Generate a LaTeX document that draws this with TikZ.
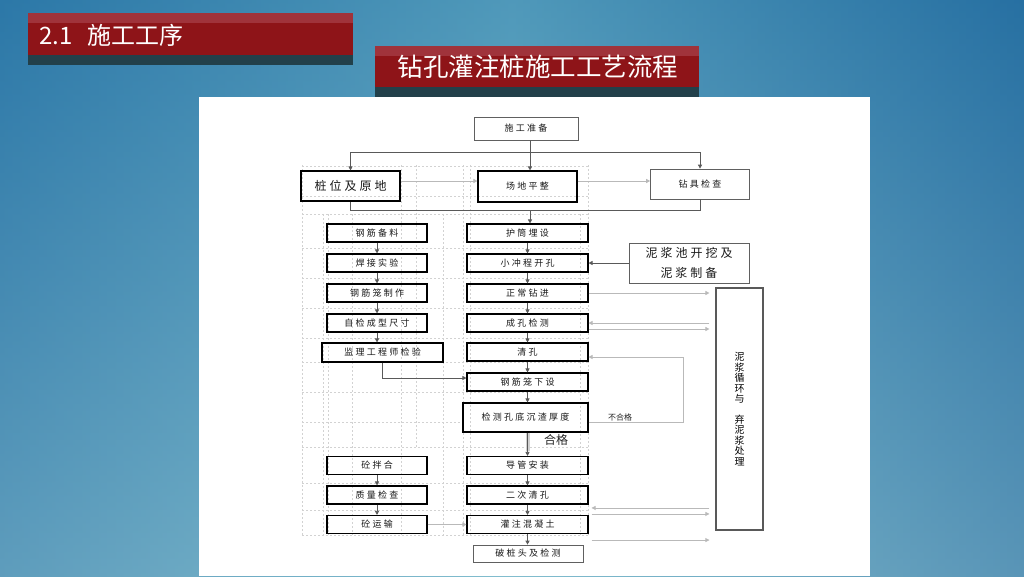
\documentclass[tikz,border=0pt]{standalone}
\usepackage{fontspec}
\setmainfont{Noto Sans CJK SC}
\newfontfamily\cjkwide[LetterSpace=25]{Noto Sans CJK SC}
\usetikzlibrary{arrows.meta,calc}
\definecolor{bgdark}{HTML}{2C78A8}
\definecolor{bgright}{HTML}{236A9E}
\definecolor{bglight}{HTML}{6DB4C9}
\definecolor{bgbottom}{HTML}{9CCAD6}
\definecolor{barred}{HTML}{8E1418}
\definecolor{barhi}{HTML}{A0333B}
\definecolor{barshadow}{HTML}{22404A}
\tikzset{
  box/.style={draw=black, line width=1.1pt, minimum width=100pt, minimum height=18pt,
    inner sep=0pt, text=black!90, font=\cjkwide\fontsize{9}{9}\selectfont},
  midbox/.style={box, minimum width=121pt},
  thinbox/.style={box, draw=gray!75!black, line width=0.7pt},
  arr/.style={draw=gray!70!black, line width=0.7pt, -{Triangle[length=4pt,width=4pt]}},
  lightarr/.style={arr, draw=gray!55},
  gridline/.style={draw=gray!35, line width=0.5pt, dash pattern={on 2pt off 2pt}},
}
\begin{document}
\begin{tikzpicture}[x=1pt,y=1pt,yscale=-1]
\useasboundingbox (0,0) rectangle (1024,576);

%Background
\shade[left color=bgdark, right color=bgright, middle color=bglight] (0,0) rectangle (1024,576);
\shade[top color=bgdark, bottom color=bgbottom, opacity=0.45] (0,0) rectangle (1024,576);

%Title bar 1
\fill[barshadow] (28,55) rectangle (353,65);
\fill[barred] (28,13) rectangle (353,55);
\fill[barhi] (28,13) rectangle (353,23);
% Text Node
\node[anchor=west, text=white, font=\fontsize{24}{24}\selectfont] (section) at (36,35) {2.1\hspace{0.6em}施工工序};

%Title bar 2
\fill[barshadow] (375,87) rectangle (699,97);
\fill[barred] (375,46) rectangle (699,87);
\fill[barhi] (375,46) rectangle (699,56);
% Text Node
\node[text=white, font=\fontsize{25.5}{25.5}\selectfont] (title) at (538,67) {钻孔灌注桩施工工艺流程};

%Shape: White panel
\fill[white] (199,97) rectangle (870,576);

%Dashed grid
\draw[gridline] (302,165) -- (302,535) (323,214) -- (323,535) (328,214) -- (328,535)
  (352,214) -- (352,535) (401,165) -- (401,535) (416,165) -- (416,447)
  (443,214) -- (443,535) (463,165) -- (463,535) (470,165) -- (470,535)
  (580,214) -- (580,535) (588,165) -- (588,535);
\draw[gridline] (302,166) -- (588,166) (302,196) -- (588,196) (302,214) -- (588,214)
  (302,248) -- (588,248) (302,278) -- (588,278) (302,308) -- (588,308)
  (302,338) -- (588,338) (302,362) -- (588,362) (302,392) -- (588,392)
  (302,422) -- (463,422) (302,447) -- (588,447) (302,483) -- (588,483)
  (302,510) -- (588,510) (302,535) -- (588,535);

%Top row
\node[thinbox, minimum width=104pt, minimum height=23pt] (zhunbei) at (526,128.5) {施工准备};
\node[box, minimum width=99pt, minimum height=30pt, font=\cjkwide\fontsize{12}{12}\selectfont] (zhuangwei) at (350.5,186) {桩位及原地};
\node[box, minimum width=99pt, minimum height=31pt] (pingzheng) at (527.5,186.5) {场地平整};
\node[thinbox, minimum width=99pt, minimum height=30pt] (zuanju) at (700,184) {钻具检查};

%Left column
\node[box] (gangjin) at (377,233) {钢筋备料};
\node[box] (hanjie) at (377,263) {焊接实验};
\node[box] (longzhi) at (377,293) {钢筋笼制作};
\node[box] (zijian) at (377,323) {自检成型尺寸};
\node[box, minimum width=121pt, minimum height=19pt] (jianli) at (382.5,352.5) {监理工程师检验};
\node[box] (banhe) at (377,465.5) {砼拌合};
\node[box] (zhijian) at (377,495) {质量检查};
\node[box] (yunshu) at (377,524.5) {砼运输};

%Middle column
\node[midbox] (hutong) at (527.5,233) {护筒埋设};
\node[midbox] (kaikong) at (527.5,263) {小冲程开孔};
\node[midbox] (zuanjin) at (527.5,293) {正常钻进};
\node[midbox] (chengkong) at (527.5,323) {成孔检测};
\node[midbox] (qingkong) at (527.5,352) {清孔};
\node[midbox] (xiafang) at (527.5,382) {钢筋笼下设};
\node[box, minimum width=125pt, minimum height=29pt] (jiance) at (525.5,417.5) {检测孔底沉渣厚度};
\node[midbox] (daoguan) at (527.5,465.5) {导管安装};
\node[midbox] (erci) at (527.5,495) {二次清孔};
\node[midbox] (guanzhu) at (527.5,524.5) {灌注混凝土};
\node[thinbox, minimum width=110pt, minimum height=17pt] (potou) at (528,553.5) {破桩头及检测};

%Right side
\node[thinbox, minimum width=120pt, minimum height=40pt, align=center,
  font=\cjkwide\fontsize{12}{20}\selectfont] (nijiang) at (689,263) {泥浆池开挖及\\泥浆制备};
\node[box, draw=gray!70!black, line width=1.2pt, minimum width=47pt, minimum height=242pt,
  align=center, text=black, font=\fontsize{10}{10.5}\selectfont] (xunhuan) at (739.5,409)
  {泥\\浆\\循\\环\\与\\[10pt]弃\\泥\\浆\\处\\理};

% Text Node
\node[font=\fontsize{12}{12}\selectfont, text=black!85] (hege) at (556,440) {合格};
% Text Node
\node[font=\fontsize{8}{8}\selectfont, text=black!85] (buhege) at (620,417) {不合格};

%Connectors, top
\coordinate (fen) at (530,152);
\coordinate (hui) at (530,210);
\coordinate (ping) at (530,181);
\draw[arr] (zhunbei.south -| fen) -- (pingzheng.north -| fen);
\draw[draw=gray!70!black, line width=0.7pt] (zhuangwei.north |- fen) -- (zuanju.north |- fen);
\draw[arr] (zhuangwei.north |- fen) -- (zhuangwei.north);
\draw[arr] (zuanju.north |- fen) -- (zuanju.north);
\draw[lightarr] (zhuangwei.east |- ping) -- (pingzheng.west |- ping);
\draw[lightarr] (pingzheng.east |- ping) -- (zuanju.west |- ping);
\draw[draw=gray!70!black, line width=0.7pt] (zuanju.south) -- (zuanju.south |- hui) -- (zhuangwei.south |- hui) -- (zhuangwei.south);
\draw[arr] (hui) -- (hutong.north -| hui);

%Connectors, left column
\draw[arr] (gangjin.south) -- (hanjie.north);
\draw[arr] (hanjie.south) -- (longzhi.north);
\draw[arr] (longzhi.south) -- (zijian.north);
\draw[arr] (zijian.south) -- (jianli.north -| zijian.south);
\draw[arr] (jianli.south) |- ($(xiafang.west)+(0,-4)$);
\draw[arr] (banhe.south) -- (zhijian.north);
\draw[arr] (zhijian.south) -- (yunshu.north);
\draw[lightarr] (yunshu.east) -- (guanzhu.west);

%Connectors, middle column
\draw[arr] (hutong.south) -- (kaikong.north);
\draw[arr] (kaikong.south) -- (zuanjin.north);
\draw[arr] (zuanjin.south) -- (chengkong.north);
\draw[arr] (chengkong.south) -- (qingkong.north);
\draw[arr] (qingkong.south) -- (xiafang.north);
\draw[arr] (xiafang.south) -- (jiance.north -| xiafang.south);
\draw[draw=gray!35, line width=4pt] (jiance.south -| daoguan.north) -- ($(daoguan.north)+(0,-5)$);
\draw[arr] (jiance.south -| daoguan.north) -- (daoguan.north);
\draw[arr] (daoguan.south) -- (erci.north);
\draw[arr] (erci.south) -- (guanzhu.north);
\draw[arr] (guanzhu.south) -- (potou.north -| guanzhu.south);

%Connectors, right side
\coordinate (xl) at ($(xunhuan.west)+(-6,0)$);
\coordinate (ck) at ($(chengkong.east)+(0,6)$);
\coordinate (gz1) at ($(guanzhu.north east)+(3,-7)$);
\coordinate (gz2) at ($(guanzhu.north east)+(3,-1)$);
\coordinate (gz3) at ($(guanzhu.south east)+(3,6)$);
\draw[arr] (nijiang.west) -- (kaikong.east);
\draw[lightarr] (zuanjin.east) -- (zuanjin.east -| xl);
\draw[lightarr] (chengkong.east -| xl) -- (chengkong.east);
\draw[lightarr] (ck) -- (ck -| xl);
\draw[lightarr] ($(jiance.east)+(0,5)$) -- ++(95,0) |- ($(qingkong.east)+(0,5)$);
\draw[lightarr] (gz1 -| xl) -- (gz1);
\draw[lightarr] (gz2) -- (gz2 -| xl);
\draw[lightarr] (gz3) -- (gz3 -| xl);

\end{tikzpicture}
\end{document}
